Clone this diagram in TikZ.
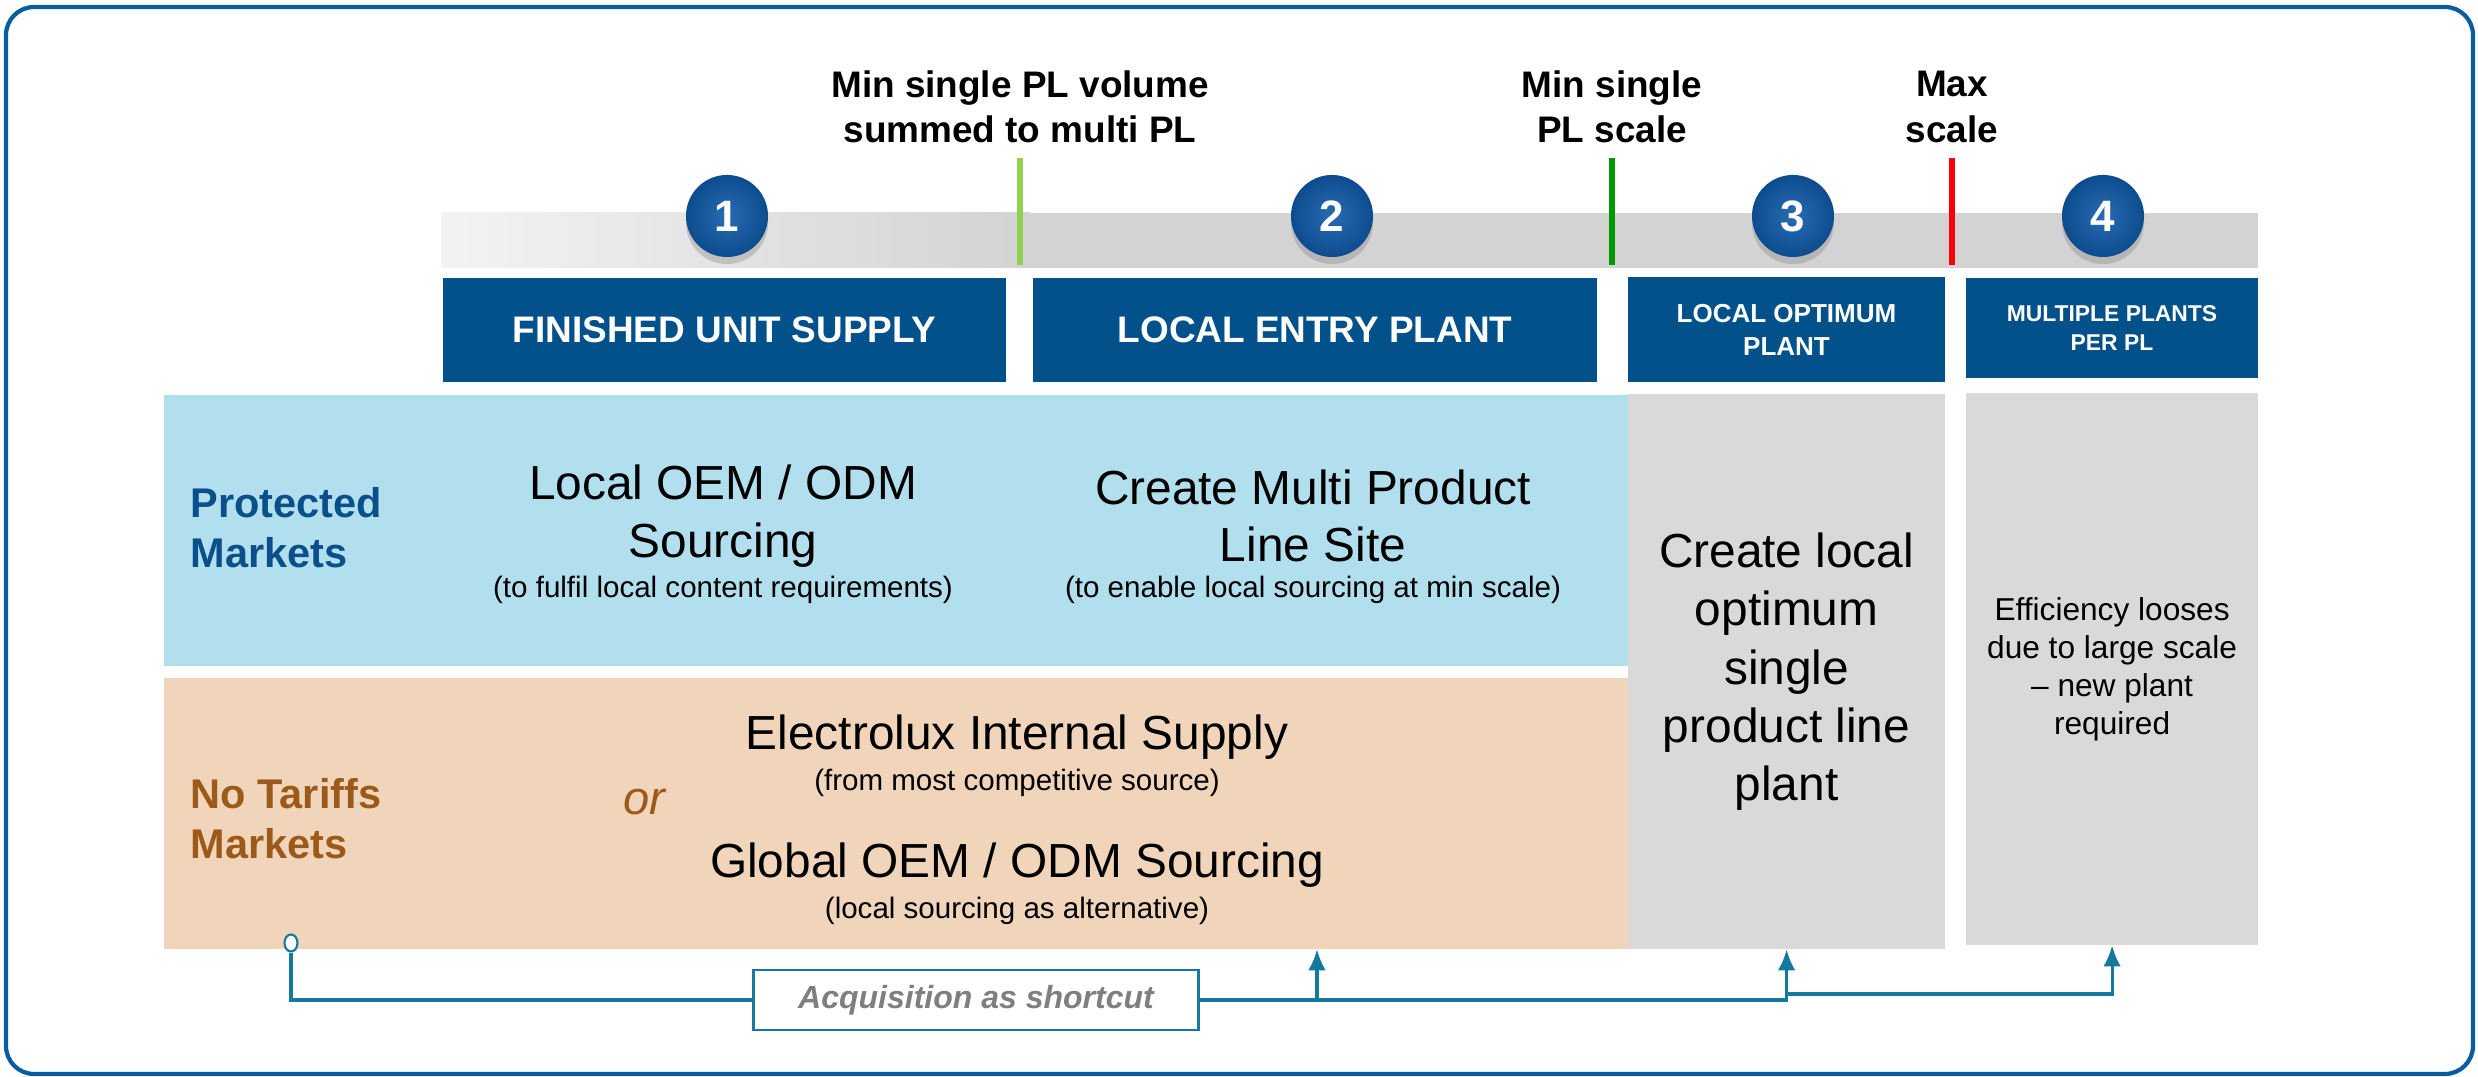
\documentclass[tikz,border=0pt]{standalone}
\usepackage{fontspec}
\setmainfont{Liberation Sans}
\usepackage{tikz}
\usetikzlibrary{arrows.meta, shadows, shapes.geometric}

\definecolor{frameblue}{HTML}{0B5C9E}
\definecolor{hdrblue}{HTML}{03518B}
\definecolor{ballblue}{HTML}{0C4C8E}
\definecolor{ballhi}{HTML}{2A6CB3}
\definecolor{barlight}{HTML}{F3F3F3}
\definecolor{bargray}{HTML}{D3D3D3}
\definecolor{limegreen}{HTML}{92D050}
\definecolor{deepgreen}{HTML}{009A00}
\definecolor{protblue}{HTML}{B2DFEE}
\definecolor{protdark}{HTML}{0B4F8A}
\definecolor{tariffsand}{HTML}{F1D5BB}
\definecolor{tariffbrown}{HTML}{9C5A1A}
\definecolor{panelgray}{HTML}{D9D9D9}
\definecolor{conncol}{HTML}{13799F}
\definecolor{acqgray}{HTML}{7F7F7F}

\tikzset{
  thresh/.style={align=center, font=\bfseries\fontsize{10.5}{12.8}\selectfont},
  numball/.style={circle, minimum size=0.82cm, inner sep=0pt, inner color=ballhi, outer color=ballblue,
    text=white, font=\bfseries\fontsize{12.5}{14}\selectfont,
    drop shadow={shadow xshift=0pt, shadow yshift=-2pt, opacity=0.35}},
  hdr/.style={fill=hdrblue, text=white, inner sep=0pt, minimum height=1.04cm, align=center,
    font=\bfseries\fontsize{10.5}{12}\selectfont},
  panel/.style={anchor=north west, inner sep=0pt, outer sep=0pt},
  bigtxt/.style={align=center, font=\fontsize{13.6}{16.4}\selectfont},
  subtxt/.style={align=center, font=\fontsize{8.4}{10}\selectfont},
  markettxt/.style={anchor=west, align=left, inner sep=0pt, font=\bfseries\fontsize{11.8}{14.2}\selectfont},
  conn/.style={conncol, line width=0.9pt},
  tip/.style={-{Latex[length=6pt, width=5pt]}},
  srcdot/.style={ellipse, draw=conncol, line width=0.6pt, fill=white, minimum width=0.13cm, minimum height=0.17cm, inner sep=0pt},
  acqbox/.style={draw=conncol, line width=0.8pt, fill=white, minimum width=4.45cm, minimum height=0.6cm, inner sep=0pt,
    text=acqgray, font=\bfseries\itshape\fontsize{9.1}{11}\selectfont}
}

\begin{document}
\begin{tikzpicture}[x=0.01cm, y=-0.01cm]
  \useasboundingbox (0,0) rectangle (2478,1077);

  % ----- Frame -----
  \draw[frameblue, line width=1.2pt, rounded corners=8pt] (6,7) rectangle (2473,1074);

  % ----- Scale bar -----
  \shade[left color=barlight, right color=bargray] (441,213) rectangle (1030,268);
  \fill[bargray] (1030,213) rectangle (2258,268);

  % Thresholds
  \foreach \x/\col/\txt [count=\i] in {1020/limegreen/{Min single PL volume\\summed to multi PL},
                                      1612/deepgreen/{Min single\\PL scale},
                                      1952/red/{Max\\scale}} {
    \draw[\col, line width=1.7pt] (\x,158) -- (\x,265);
    \node[thresh] (th\i) at (\x,107) {\txt};
  }

  % Stage numbers
  \foreach \n/\x in {1/727, 2/1332, 3/1793, 4/2103}
    \node[numball] (num\n) at (\x,216) {\n};

  % ----- Stage headers -----
  \node[hdr, minimum width=5.63cm] (stage1) at (724.5,330) {FINISHED UNIT SUPPLY};
  \node[hdr, minimum width=5.64cm] (stage2) at (1315,330) {LOCAL ENTRY PLANT};
  \node[hdr, minimum width=3.17cm, font=\bfseries\fontsize{7.4}{9.4}\selectfont] (stage3) at (1786.5,329.5) {LOCAL OPTIMUM\\PLANT};
  \node[hdr, minimum width=2.92cm, minimum height=1.0cm, font=\bfseries\fontsize{6.5}{8.5}\selectfont] (stage4) at (2112,328) {MULTIPLE PLANTS\\PER PL};

  % ----- Market panels -----
  \node[panel, fill=protblue, minimum width=14.63cm, minimum height=2.71cm] (prot) at (164,395) {};
  \node[panel, fill=tariffsand, minimum width=14.63cm, minimum height=2.71cm] (notar) at (164,678) {};
  \node[panel, fill=panelgray, minimum width=3.17cm, minimum height=5.55cm, align=center,
        font=\fontsize{13.6}{16.5}\selectfont] (opt) at (1628,394) {Create local\\optimum\\single\\product line\\plant};
  \node[panel, fill=panelgray, minimum width=2.92cm, minimum height=5.52cm, align=center,
        font=\fontsize{9}{10.8}\selectfont] (multi) at (1966,393) {Efficiency looses\\due to large scale\\-- new plant\\required};

  % Protected markets
  \node[markettxt, text=protdark] (protlbl) at (190,528) {Protected\\Markets};
  \node[bigtxt] (locoem) at (723,516) {Local OEM / ODM\\Sourcing};
  \node[subtxt] (locoemsub) at (723,590) {(to fulfil local content requirements)};
  \node[bigtxt] (mpsite) at (1313,516) {Create Multi Product\\Line Site};
  \node[subtxt] (mpsitesub) at (1313,590) {(to enable local sourcing at min scale)};

  % No tariffs markets
  \node[markettxt, text=tariffbrown] (notarlbl) at (190,819) {No Tariffs\\Markets};
  \node[text=tariffbrown, font=\itshape\fontsize{13.4}{15}\selectfont] (orlbl) at (644,802) {or};
  \node[bigtxt] (intsup) at (1017,737) {Electrolux Internal Supply};
  \node[subtxt] (intsupsub) at (1017,783) {(from most competitive source)};
  \node[bigtxt] (gloem) at (1017,865) {Global OEM / ODM Sourcing};
  \node[subtxt] (gloemsub) at (1017,911) {(local sourcing as alternative)};

  % ----- Acquisition path -----
  \node[srcdot] (src) at (291,943) {};
  \node[acqbox] (acq) at (976,1000) {Acquisition as shortcut};
  \coordinate (tap1) at (1317,1000);
  \coordinate (tap2) at (1787,994);
  \draw[conn] (src.south) |- (acq.west);
  \draw[conn, tip] (acq.east) -| (opt.south);
  \draw[conn, tip] (tap1) -- (tap1 |- notar.south);
  \draw[conn, tip] (tap2) -| (multi.south);

  % Page number
  \node[anchor=north, text=frameblue, font=\fontsize{8}{9}\selectfont] (pgno) at (2392,1066) {12};
\end{tikzpicture}
\end{document}
